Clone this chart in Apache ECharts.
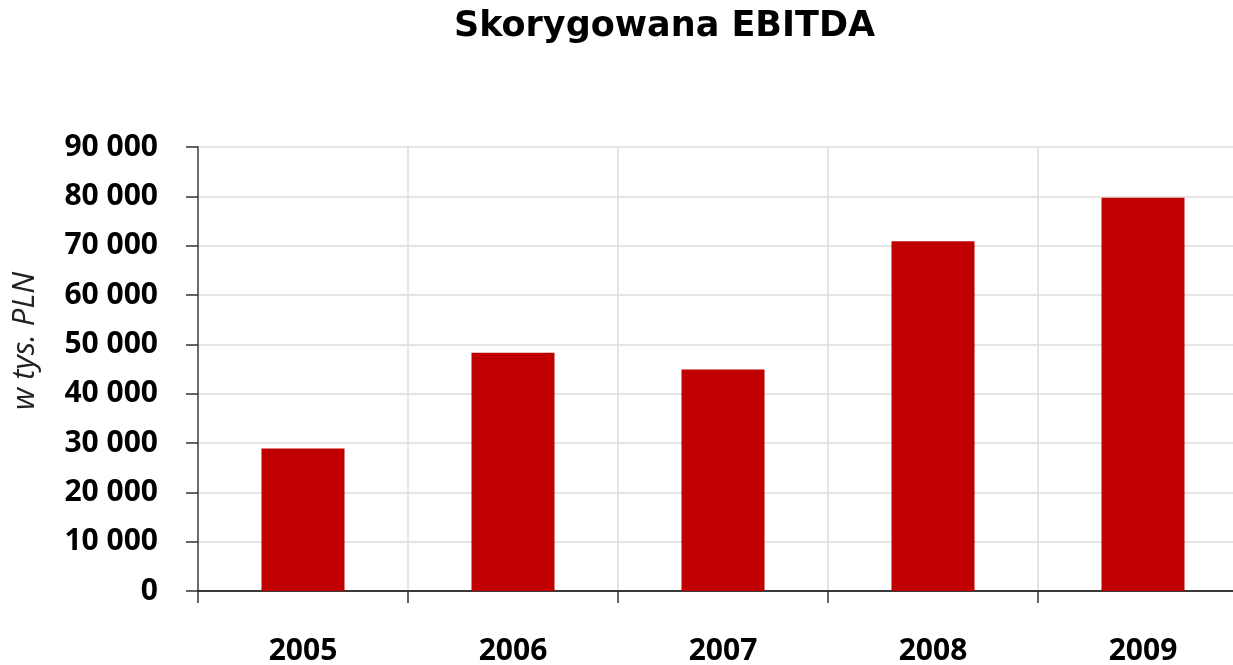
<!DOCTYPE html>
<html>
<head>
<meta charset="utf-8">
<script src="https://cdn.jsdelivr.net/npm/echarts@6/dist/echarts.min.js"></script>
<style>
    html, body { margin: 0; padding: 0; background: #fff; }
    #chart { width: 1233px; height: 665px; }
</style>
</head>
<body>
<div id="chart"></div>
<script>
    var years = ['2005', '2006', '2007', '2008', '2009'];
    var ebitda = [28900, 48300, 44900, 70900, 79700];

    var chart = echarts.init(document.getElementById('chart'));

    function spaced(v) {
        return String(v).replace(/\B(?=(\d{3})+(?!\d))/g, ' ');
    }

    var option = {
        animation: false,
        backgroundColor: '#fff',
        title: {
            text: 'Skorygowana EBITDA',
            left: 449,
            top: 4,
            textStyle: {
                fontFamily: 'DejaVu Sans',
                fontWeight: 'bold',
                fontSize: 35,
                color: '#000'
            }
        },
        grid: {
            left: 198,
            right: -15,
            top: 147,
            bottom: 74,
            outerBoundsMode: 'none'
        },
        xAxis: {
            type: 'category',
            data: years,
            axisLine: { lineStyle: { color: '#000', width: 1.5 } },
            axisTick: { show: true, length: 12, lineStyle: { color: '#333', width: 1.5 } },
            axisLabel: {
                margin: 45,
                fontFamily: 'Open Sans',
                fontWeight: 'bold',
                fontSize: 30,
                color: '#000'
            },
            splitLine: { show: true, lineStyle: { color: '#dcdcdc', width: 1.5 } }
        },
        yAxis: {
            type: 'value',
            min: 0,
            max: 90000,
            interval: 10000,
            name: 'w tys. PLN',
            nameLocation: 'middle',
            nameGap: 157,
            nameRotate: 90,
            nameTextStyle: {
                fontFamily: 'Open Sans',
                fontStyle: 'italic',
                fontSize: 31,
                color: '#222',
                padding: [0, 0, 0, 56]
            },
            axisLine: { show: true, lineStyle: { color: '#444', width: 1.5 } },
            axisTick: { show: true, length: 12, lineStyle: { color: '#333', width: 1.5 } },
            axisLabel: {
                margin: 40,
                formatter: spaced,
                fontFamily: 'Open Sans',
                fontWeight: 'bold',
                fontSize: 30,
                color: '#000'
            },
            splitLine: { show: true, lineStyle: { color: '#dcdcdc', width: 1.5 } }
        },
        series: [{
            type: 'bar',
            data: ebitda,
            barWidth: 83,
            itemStyle: { color: '#c00000' }
        }]
    };
    chart.setOption(option);
</script>
</body>
</html>
